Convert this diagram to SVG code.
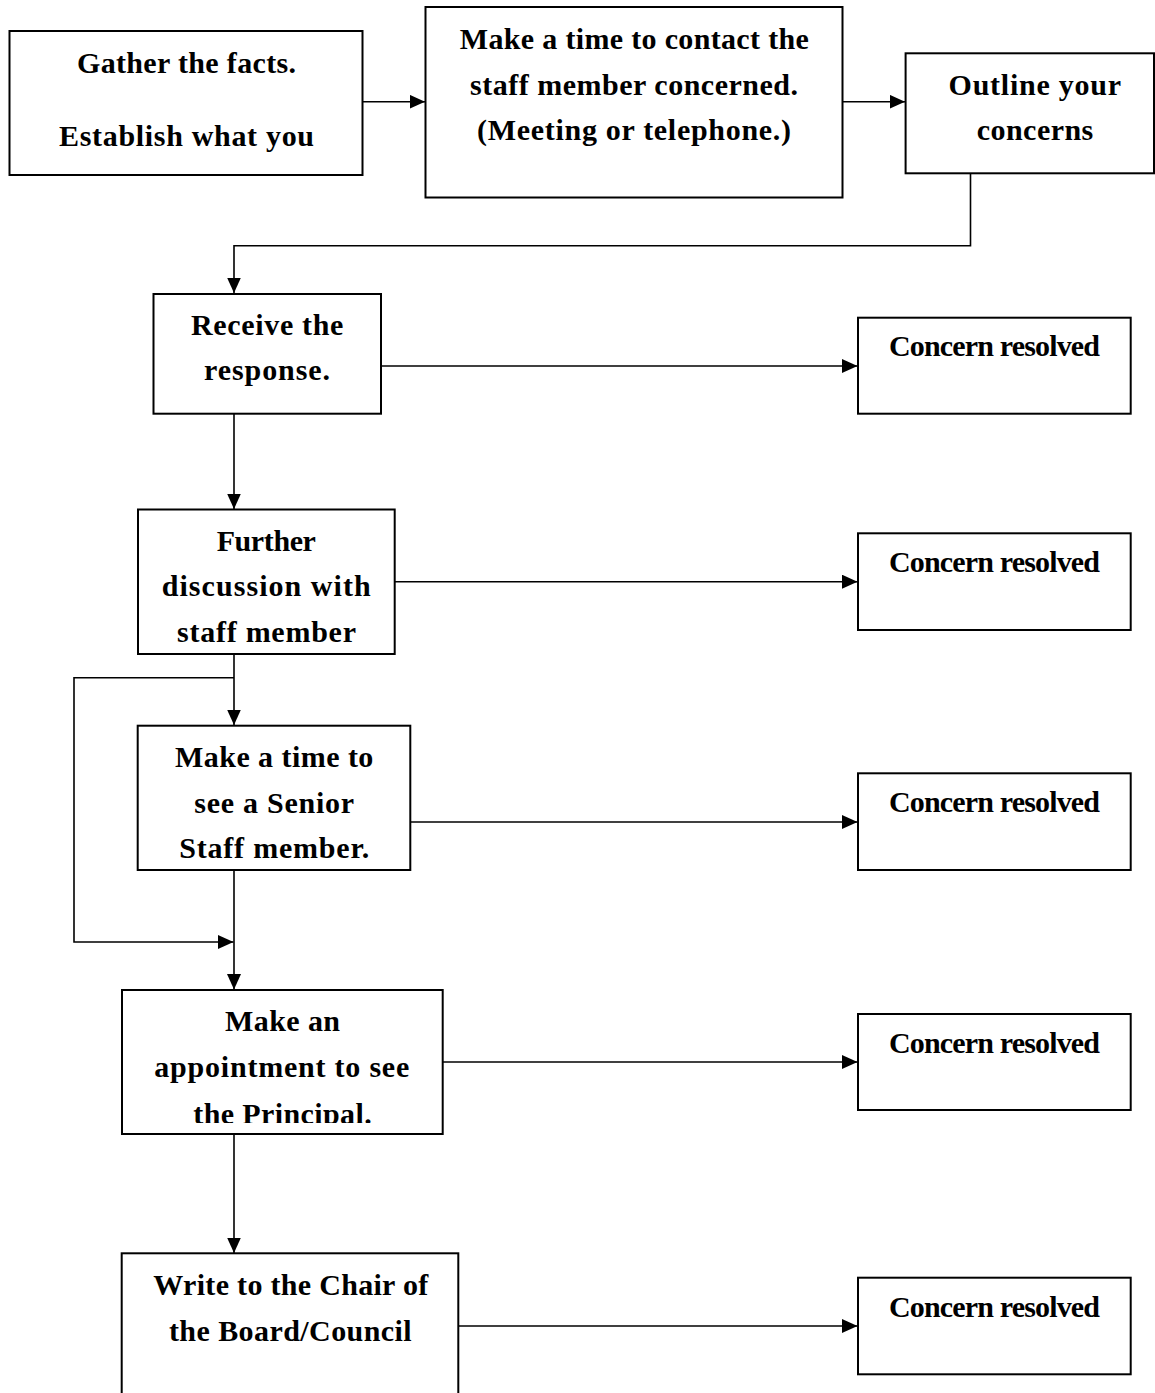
<svg xmlns="http://www.w3.org/2000/svg" width="1155" height="1393" viewBox="0 0 1155 1393">
<style>
.box{fill:#fff;stroke:#000;stroke-width:2}
.t{font-family:"Liberation Serif","Times New Roman",serif;font-weight:bold;font-size:30px;fill:#000;text-anchor:middle}
.c{fill:none;stroke:#000;stroke-width:1.6}
</style>
<defs>
<marker id="ah" markerUnits="userSpaceOnUse" markerWidth="16" markerHeight="15" refX="15.5" refY="7" orient="auto">
<path d="M0,0 L15.5,7 L0,14 z" fill="#000"/>
</marker>
<clipPath id="clipP"><rect x="0" y="0" width="1155" height="1123"/></clipPath>
</defs>
<rect width="1155" height="1393" fill="#fff"/>
<g id="connectors">
<path class="c" d="M363,101.7 H425" marker-end="url(#ah)"/>
<path class="c" d="M843,101.7 H905" marker-end="url(#ah)"/>
<path class="c" d="M970.5,174 V245.7 H234 V293" marker-end="url(#ah)"/>
<path class="c" d="M381,366 H857.5" marker-end="url(#ah)"/>
<path class="c" d="M234,414 V509" marker-end="url(#ah)"/>
<path class="c" d="M395,581.7 H857.5" marker-end="url(#ah)"/>
<path class="c" d="M234,654 V725" marker-end="url(#ah)"/>
<path class="c" d="M234,677.7 H74 V942 H233.5" marker-end="url(#ah)"/>
<path class="c" d="M410.5,822 H857.5" marker-end="url(#ah)"/>
<path class="c" d="M234,870 V989.5" marker-end="url(#ah)"/>
<path class="c" d="M443,1062 H857.5" marker-end="url(#ah)"/>
<path class="c" d="M234,1134 V1253" marker-end="url(#ah)"/>
<path class="c" d="M458.5,1326 H857.5" marker-end="url(#ah)"/>
</g>
<g id="n1">
<rect class="box" x="9.5" y="31" width="353" height="144"/>
<text class="t" x="186.5" y="73.3" textLength="219">Gather the facts.</text>
<text class="t" x="186.5" y="145.7" textLength="255">Establish what you</text>
</g>
<g id="n2">
<rect class="box" x="425.5" y="7" width="417" height="190.5"/>
<text class="t" x="634.3" y="49.3" textLength="349">Make a time to contact the</text>
<text class="t" x="634" y="94.8" textLength="328">staff member concerned.</text>
<text class="t" x="634" y="140.3" textLength="314">(Meeting or telephone.)</text>
</g>
<g id="n3">
<rect class="box" x="905.6" y="53.3" width="248.4" height="120"/>
<text class="t" x="1034.8" y="95" textLength="172.5">Outline your</text>
<text class="t" x="1035" y="140" textLength="116.6">concerns</text>
</g>
<g id="n4">
<rect class="box" x="153.5" y="294" width="227.5" height="119.7"/>
<text class="t" x="267.2" y="335" textLength="152.3">Receive the</text>
<text class="t" x="267" y="380" textLength="126">response.</text>
</g>
<g id="n5">
<rect class="box" x="138" y="509.5" width="256.7" height="144.5"/>
<text class="t" x="266.3" y="550.7" textLength="99.3">Further</text>
<text class="t" x="266.2" y="596" textLength="209">discussion with</text>
<text class="t" x="266.5" y="641.7" textLength="179">staff member</text>
</g>
<g id="n6">
<rect class="box" x="137.7" y="725.7" width="272.6" height="144.3"/>
<text class="t" x="274.2" y="766.7" textLength="198.3">Make a time to</text>
<text class="t" x="274.2" y="812.7" textLength="159.7">see a Senior</text>
<text class="t" x="274.3" y="858.3" textLength="190">Staff member.</text>
</g>
<g id="n7">
<rect class="box" x="122" y="990" width="320.7" height="144"/>
<text class="t" x="282.5" y="1030.7" textLength="115">Make an</text>
<text class="t" x="281.8" y="1076.7" textLength="255">appointment to see</text>
<text class="t" x="282.5" y="1124" textLength="178.4" clip-path="url(#clipP)">the Principal.</text>
</g>
<g id="n8">
<rect class="box" x="121.7" y="1253.3" width="336.6" height="160"/>
<text class="t" x="290.8" y="1295" textLength="275">Write to the Chair of</text>
<text class="t" x="290.3" y="1340.7" textLength="242.7">the Board/Council</text>
</g>
<g id="r1">
<rect class="box" x="858" y="317.7" width="272.7" height="96"/>
<text class="t" x="994.5" y="356" textLength="211">Concern resolved</text>
</g>
<g id="r2">
<rect class="box" x="858" y="533.3" width="272.7" height="96.7"/>
<text class="t" x="994.5" y="572.3" textLength="211">Concern resolved</text>
</g>
<g id="r3">
<rect class="box" x="858" y="773.3" width="272.7" height="96.7"/>
<text class="t" x="994.5" y="811.7" textLength="211">Concern resolved</text>
</g>
<g id="r4">
<rect class="box" x="858" y="1014" width="272.7" height="96"/>
<text class="t" x="994.5" y="1053.3" textLength="211">Concern resolved</text>
</g>
<g id="r5">
<rect class="box" x="858" y="1277.7" width="272.7" height="96.6"/>
<text class="t" x="994.5" y="1316.7" textLength="211">Concern resolved</text>
</g>
</svg>
